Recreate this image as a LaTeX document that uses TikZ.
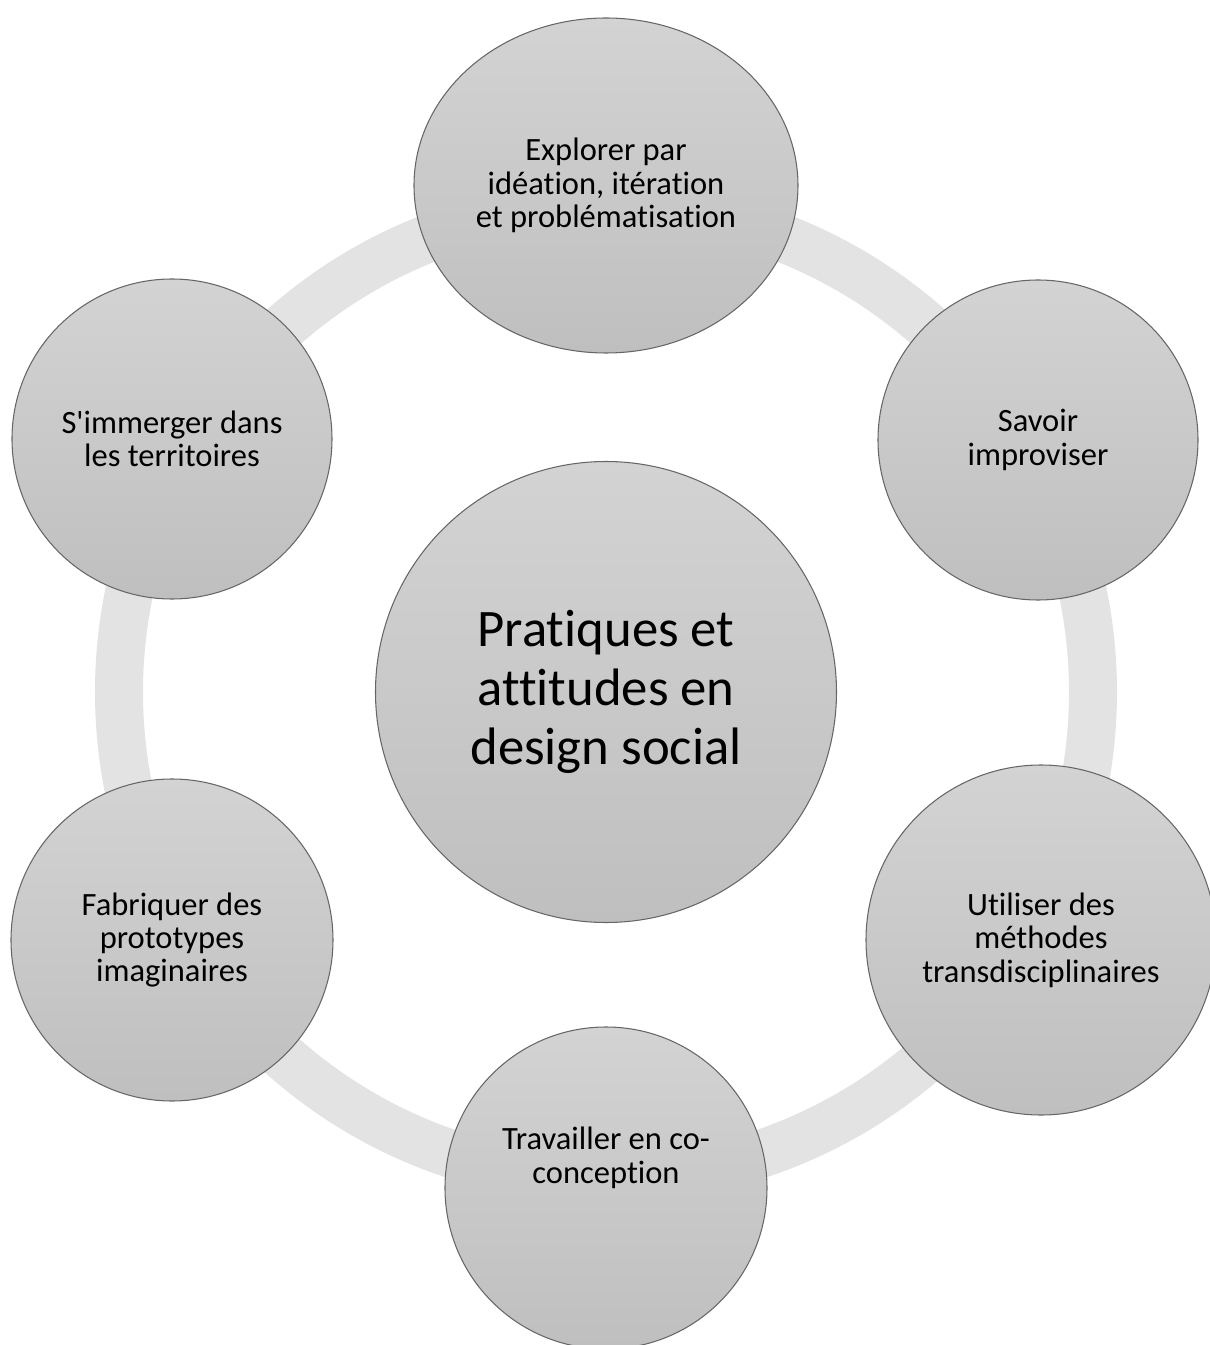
\documentclass[tikz,border=0pt]{standalone}
\usepackage{fontspec}
\setmainfont[Ligatures={NoCommon}]{Carlito}
\usetikzlibrary{shapes.geometric}
\definecolor{ringgray}{HTML}{E3E3E3}
\definecolor{bubbletop}{HTML}{D3D3D3}
\definecolor{bubblebot}{HTML}{BFBFBF}
\definecolor{bubbleline}{HTML}{666666}
\begin{document}
\begin{tikzpicture}[
  bubble/.style={circle, draw=bubbleline, line width=0.6pt, top color=bubbletop,
    bottom color=bubblebot, align=center, inner sep=0pt,
    font=\fontsize{18.5}{19}\selectfont},
  bubbletext/.style={align=center, font=\fontsize{18.5}{19}\selectfont}]
\useasboundingbox (-12.12,-13.06) rectangle (12.06,13.84);
\draw[ringgray, line width=0.96cm] (0,0) circle (9.74);
\node[bubble, minimum size=9.22cm, font=\fontsize{30}{33.5}\selectfont] (core) at (0,0)
  {Pratiques et\\attitudes en\\design social};
\node[bubble, ellipse, minimum width=7.68cm, minimum height=6.7cm] (explorer) at (0,10.13)
  {Explorer par\\idéation, itération\\et problématisation};
\node[bubble, minimum size=6.4cm] (improviser) at (8.64,5.04) {Savoir\\improviser};
\node[bubble, minimum size=7.0cm] (methodes) at (8.7,-4.96)
  {Utiliser des\\méthodes\\transdisciplinaires};
\node[bubble, minimum size=6.44cm] (cocon) at (0,-9.92) {};
\node[bubbletext] at ([yshift=0.6cm]cocon.center) {Travailler en co-\\conception};
\node[bubble, minimum size=6.44cm] (fabriquer) at (-8.68,-4.96)
  {Fabriquer des\\prototypes\\imaginaires};
\node[bubble, minimum size=6.4cm] (immerger) at (-8.68,5.06)
  {S\textquotesingle immerger dans\\les territoires};
\end{tikzpicture}
\end{document}
